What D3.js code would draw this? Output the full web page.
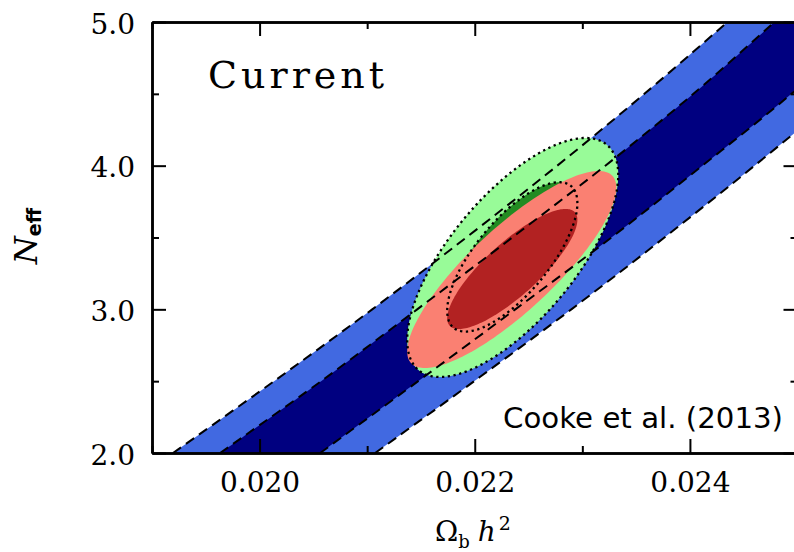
<!DOCTYPE html>
<html>
<head>
<meta charset="utf-8">
<script src="https://cdn.jsdelivr.net/npm/d3@7"></script>
<style>
  html, body { margin: 0; padding: 0; background: #fff; }
  svg { display: block; }
</style>
</head>
<body>
<svg id="chart" width="794" height="552"></svg>
<script>
// Effective neutrino number levels at which the D/H band edges are sampled
const neffLevels = [2.0, 2.5, 3.0, 3.5, 4.0, 4.5, 5.0];

// Omega_b h^2 along each D/H band edge (2 sigma low, 1 sigma low, 1 sigma high, 2 sigma high)
const dh2SigmaLo = [0.019195, 0.020135, 0.021047, 0.021921, 0.022767, 0.023577, 0.024349];
const dh1SigmaLo = [0.019633, 0.020572, 0.021465, 0.022349, 0.023214, 0.024033, 0.024786];
const dh1SigmaHi = [0.020563, 0.021474, 0.022377, 0.023270, 0.024116, 0.024944, 0.025707];
const dh2SigmaHi = [0.021074, 0.021995, 0.022898, 0.023763, 0.024600, 0.025409, 0.026181];

// Confidence ellipses: outer green, inner green, outer red, inner red
const contourCenterX   = [0.022353, 0.022349, 0.022344, 0.022349];
const contourCenterY   = [3.361, 3.365, 3.277, 3.281];
const contourHalfWidth = [0.000981, 0.000605, 0.000972, 0.000605];
const contourHalfHeight= [0.832, 0.520, 0.686, 0.418];
const contourCorr      = [0.69, 0.72, 0.83, 0.82];
const contourFill      = ["#98fb98", "#228b22", "#fa8072", "#b22222"];
const contourDotted    = [true, true, false, false];

// Axis ticks
const xMajorTicks = [0.020, 0.022, 0.024];
const xMinorTicks = [0.019, 0.021, 0.023, 0.025];
const yMajorTicks = [2.0, 3.0, 4.0, 5.0];
const yMinorTicks = [2.5, 3.5, 4.5];

const svg = d3.select("#chart");
const plotLeft = 152, plotRight = 797.5, plotTop = 22, plotBottom = 453;

const x = d3.scaleLinear().domain([0.019, 0.025]).range([plotLeft, plotRight]);
const y = d3.scaleLinear().domain([2.0, 5.0]).range([plotBottom, plotTop]);

svg.append("defs").append("clipPath").attr("id", "plotArea")
  .append("rect").attr("x", plotLeft).attr("y", plotTop)
  .attr("width", plotRight - plotLeft).attr("height", plotBottom - plotTop);

const plot = svg.append("g").attr("clip-path", "url(#plotArea)");

// D/H bands
const bandArea = (lo, hi) => d3.area()
  .curve(d3.curveCatmullRom)
  .y((d, i) => y(neffLevels[i]))
  .x0((d, i) => x(lo[i]))
  .x1((d, i) => x(hi[i]))(neffLevels);

plot.append("path").attr("d", bandArea(dh2SigmaLo, dh2SigmaHi)).attr("fill", "#4169e1");
plot.append("path").attr("d", bandArea(dh1SigmaLo, dh1SigmaHi)).attr("fill", "#000080");

// Ellipses
function ellipsePoints(k) {
  const pts = [];
  const s = Math.sqrt(1 - contourCorr[k] * contourCorr[k]);
  for (let j = 0; j < 180; j++) {
    const t = (j / 180) * 2 * Math.PI;
    pts.push([
      contourCenterX[k] + contourHalfWidth[k] * Math.cos(t),
      contourCenterY[k] + contourHalfHeight[k] * (contourCorr[k] * Math.cos(t) + s * Math.sin(t))
    ]);
  }
  return pts;
}
const ellipseLine = d3.line().x(d => x(d[0])).y(d => y(d[1])).curve(d3.curveLinearClosed);

contourFill.forEach((c, k) => {
  plot.append("path").attr("d", ellipseLine(ellipsePoints(k))).attr("fill", c);
});

// Dashed band edges
const edgeLine = vals => d3.line()
  .curve(d3.curveCatmullRom)
  .x((d, i) => x(vals[i]))
  .y((d, i) => y(neffLevels[i]))(neffLevels);

[dh2SigmaLo, dh1SigmaLo, dh1SigmaHi, dh2SigmaHi].forEach(vals => {
  plot.append("path").attr("d", edgeLine(vals))
    .attr("fill", "none").attr("stroke", "#000")
    .attr("stroke-width", 2).attr("stroke-dasharray", "10,6");
});

// Dotted ellipse outlines
contourDotted.forEach((dotted, k) => {
  if (!dotted) return;
  plot.append("path").attr("d", ellipseLine(ellipsePoints(k)))
    .attr("fill", "none").attr("stroke", "#000")
    .attr("stroke-width", 2.3).attr("stroke-dasharray", "2.3,3.5");
});

// Axes
const tickFont = "'DejaVu Serif', serif";
function styleAxis(g) {
  g.selectAll(".domain").attr("stroke", "#000").attr("stroke-width", 2.5);
  g.selectAll(".tick line").attr("stroke", "#000").attr("stroke-width", 2);
}

const axB = svg.append("g").attr("transform", `translate(0,${plotBottom})`)
  .call(d3.axisBottom(x).tickValues(xMajorTicks).tickSize(-14).tickSizeOuter(0)
    .tickFormat(d3.format(".3f")));
axB.selectAll("text").attr("dy", null).attr("y", 39)
  .style("font-family", tickFont).style("font-size", "28px").attr("fill", "#000");
styleAxis(axB);
const axBm = svg.append("g").attr("transform", `translate(0,${plotBottom})`)
  .call(d3.axisBottom(x).tickValues(xMinorTicks).tickSize(-7).tickSizeOuter(0).tickFormat(""));
styleAxis(axBm);

const axT = svg.append("g").attr("transform", `translate(0,${plotTop})`)
  .call(d3.axisTop(x).tickValues(xMajorTicks).tickSize(-14).tickSizeOuter(0).tickFormat(""));
styleAxis(axT);
const axTm = svg.append("g").attr("transform", `translate(0,${plotTop})`)
  .call(d3.axisTop(x).tickValues(xMinorTicks).tickSize(-7).tickSizeOuter(0).tickFormat(""));
styleAxis(axTm);

const axL = svg.append("g").attr("transform", `translate(${plotLeft},0)`)
  .call(d3.axisLeft(y).tickValues(yMajorTicks).tickSize(-14).tickSizeOuter(0)
    .tickFormat(d3.format(".1f")));
axL.selectAll("text").attr("dy", null).attr("y", 11).attr("x", -17)
  .style("font-family", tickFont).style("font-size", "28px").attr("fill", "#000");
styleAxis(axL);
const axLm = svg.append("g").attr("transform", `translate(${plotLeft},0)`)
  .call(d3.axisLeft(y).tickValues(yMinorTicks).tickSize(-7).tickSizeOuter(0).tickFormat(""));
styleAxis(axLm);

const axR = svg.append("g").attr("transform", `translate(${plotRight},0)`)
  .call(d3.axisRight(y).tickValues(yMajorTicks).tickSize(-14).tickSizeOuter(0).tickFormat(""));
styleAxis(axR);
const axRm = svg.append("g").attr("transform", `translate(${plotRight},0)`)
  .call(d3.axisRight(y).tickValues(yMinorTicks).tickSize(-7).tickSizeOuter(0).tickFormat(""));
styleAxis(axRm);

// Panel title
svg.append("text").attr("x", 208).attr("y", 88)
  .attr("textLength", 176).attr("lengthAdjust", "spacing")
  .style("font-family", tickFont).style("font-size", "38px").attr("fill", "#000")
  .text("Current");

// Reference label
svg.append("text").attr("x", 503).attr("y", 428)
  .attr("textLength", 280).attr("lengthAdjust", "spacingAndGlyphs")
  .style("font-family", "'DejaVu Sans', sans-serif").style("font-size", "28px").attr("fill", "#000")
  .text("Cooke et al. (2013)");

// X axis title
const xt = svg.append("text").attr("x", 435).attr("y", 541)
  .style("font-family", tickFont).style("font-size", "28px").attr("fill", "#000");
xt.append("tspan").text("Ω");
xt.append("tspan").attr("dy", 7).style("font-size", "18px").text("b");
xt.append("tspan").attr("dy", -7).attr("dx", 8).style("font-style", "italic").text("h");
xt.append("tspan").attr("dy", -11).attr("dx", 3).style("font-size", "19px").text("2");

// Y axis title
const yt = svg.append("text").attr("transform", "translate(37,236) rotate(-90)")
  .attr("text-anchor", "middle")
  .style("font-family", tickFont).style("font-size", "32px").attr("fill", "#000");
yt.append("tspan").style("font-style", "italic").text("N");
yt.append("tspan").attr("dy", 4).style("font-size", "19px").style("font-weight", "bold")
  .style("font-family", "'DejaVu Sans', sans-serif").text("eff");
</script>
</body>
</html>
